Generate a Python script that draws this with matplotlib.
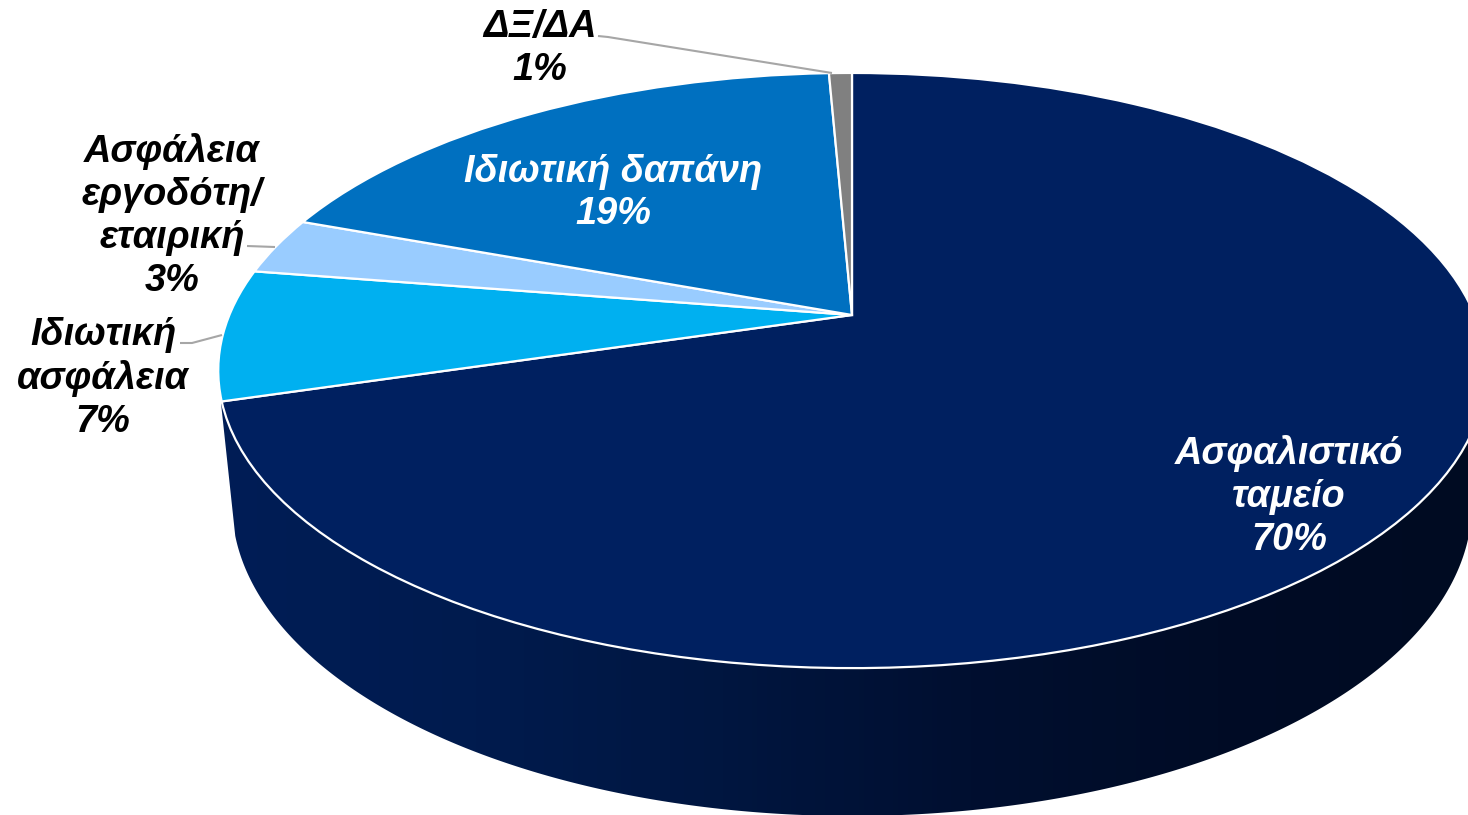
import numpy as np
import matplotlib
matplotlib.use("Agg")
import matplotlib.pyplot as plt
from matplotlib.transforms import Transform
from matplotlib.patches import Polygon
from matplotlib.colors import LinearSegmentedColormap

categories = ["Ασφαλιστικό\nταμείο", "Ιδιωτική\nασφάλεια", "Ασφάλεια\nεργοδότη/\nεταιρική",
              "Ιδιωτική δαπάνη", "ΔΞ/ΔΑ"]
values = [70.4, 7.1, 3.1, 18.7, 0.7]
percent_labels = ["70%", "7%", "3%", "19%", "1%"]
colors = ["#002060", "#00B0F0", "#99CCFF", "#0070C0", "#808080"]
text_colors = ["white", "black", "black", "white", "black"]
label_centres = [(1289, 496.5), (103, 378.5), (172, 216), (613, 193), (540, 48)]
leaders = [None,
           [(180, 343), (192, 343), (222, 335)],
           [(247, 246), (275, 247)],
           None,
           [(598, 36), (608, 37), (832, 73)]]
wall_colors = ["#001D56", "#001B4E", "#001640", "#000F30", "#000C26", "#000B22"]

W, H = 1468, 815
CX, CY = 852.0, 315.0       # image of the pie centre (apex)
A, B, K = 622.6, 287.2, 0.1866   # perspective of the disc


class Perspective(Transform):
    input_dims = output_dims = 2
    is_separable = False
    has_inverse = False

    def transform_non_affine(self, pts):
        pts = np.asarray(pts, float)
        d = 1 + K * pts[:, 1]
        return np.column_stack([CX + A * pts[:, 0] / d, CY - B * pts[:, 1] / d])


fig = plt.figure(figsize=(W / 100, H / 100), dpi=100, facecolor="white")
ax = fig.add_axes([0, 0, 1, 1])

wedges, _ = ax.pie(values, colors=colors, startangle=90, counterclock=False,
                   labeldistance=None, normalize=True,
                   wedgeprops=dict(edgecolor="white", linewidth=1.6, zorder=3))
ax.set_aspect("auto")
ax.set_xlim(0, W)
ax.set_ylim(H, 0)
ax.axis("off")

persp = Perspective()
for w in wedges:
    w.set_transform(persp + ax.transData)

# side wall of the disc: hull of the lower rim and the top rim's widest points
t = np.linspace(np.pi, 0, 400)
low_x = 852 + 620 * np.cos(t)
low_y = 504 + 312 * np.sin(t)
wall_xy = np.column_stack([
    np.r_[221, low_x[13:-13], 1483],
    np.r_[403, low_y[13:-13], 403],
])
wall = Polygon(wall_xy, closed=True, facecolor="none", edgecolor="none", zorder=1)
ax.add_patch(wall)
cmap = LinearSegmentedColormap.from_list("wall", wall_colors)
img = ax.imshow(np.linspace(0, 1, 256)[None, :], cmap=cmap, extent=(221, 1468, 815, 380),
                aspect="auto", zorder=1, interpolation="bilinear")
img.set_clip_path(wall)
ax.set_xlim(0, W)
ax.set_ylim(H, 0)

# leader lines
for pts in leaders:
    if pts:
        xs, ys = zip(*pts)
        ax.plot(xs, ys, color="#A6A6A6", lw=1.5, zorder=4, solid_capstyle="butt")

# labels
for cat, pct, col, (x, y) in zip(categories, percent_labels, text_colors, label_centres):
    ax.text(x, y, f"{cat}\n{pct}", color=col, ha="center", va="center", multialignment="center",
            family="Liberation Sans", weight="bold", style="italic", fontsize=27.3,
            linespacing=1.25, zorder=5)

fig.savefig("out.png", dpi=100)
